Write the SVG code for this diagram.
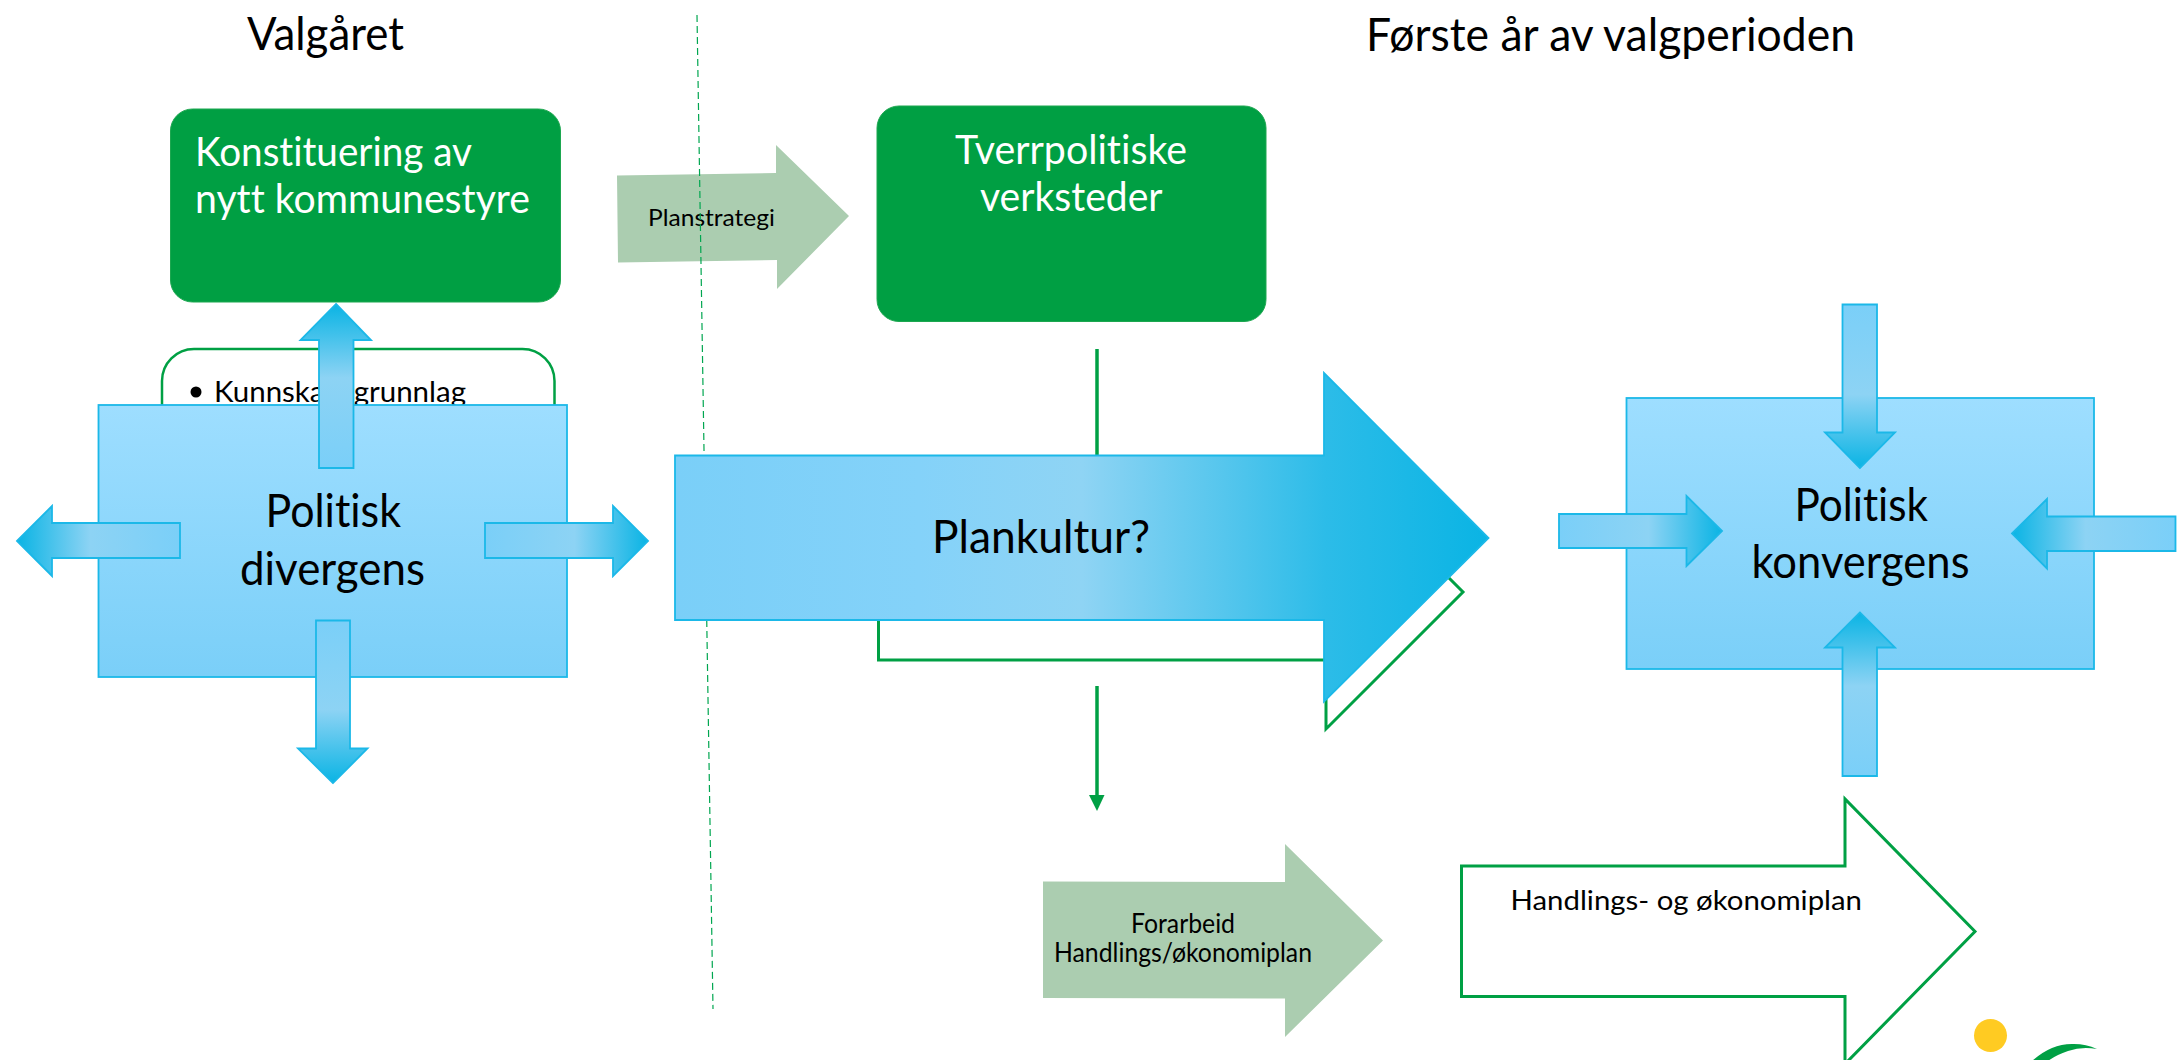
<svg xmlns="http://www.w3.org/2000/svg" width="2177" height="1060" viewBox="0 0 2177 1060">
<style>
text{font-family:"Lato","Carlito","Liberation Sans",sans-serif;fill:#000;font-variant-ligatures:none}
text.w{fill:#fff}
.t1{font-size:46px}
.t2{font-size:40px}
.t3{font-size:26px}
.t4{font-size:23px}
.t5{font-size:28px}
.green{fill:#009F43;stroke:#1DA750;stroke-width:1}
.blue{stroke:#1BB8E8;stroke-width:1.8}
.pale{fill:#ABCDB0}
.outline{fill:#fff;stroke:#00A044;stroke-width:3}
.conn{stroke:#00A044;stroke-width:3.5;fill:none}
</style>
<defs>
<linearGradient id="rectG" x1="0" y1="0" x2="0" y2="1"><stop offset="0" stop-color="#9EDEFF"/><stop offset="1" stop-color="#7ACFF8"/></linearGradient>
<linearGradient id="toR" x1="0" y1="0" x2="1" y2="0"><stop offset="0" stop-color="#7ACFF8"/><stop offset=".55" stop-color="#8DD3F4"/><stop offset="1" stop-color="#0AB4E4"/></linearGradient>
<linearGradient id="toL" x1="1" y1="0" x2="0" y2="0"><stop offset="0" stop-color="#7ACFF8"/><stop offset=".55" stop-color="#8DD3F4"/><stop offset="1" stop-color="#0AB4E4"/></linearGradient>
<linearGradient id="toD" x1="0" y1="0" x2="0" y2="1"><stop offset="0" stop-color="#7ACFF8"/><stop offset=".55" stop-color="#8DD3F4"/><stop offset="1" stop-color="#0AB4E4"/></linearGradient>
<linearGradient id="toU" x1="0" y1="1" x2="0" y2="0"><stop offset="0" stop-color="#7ACFF8"/><stop offset=".55" stop-color="#8DD3F4"/><stop offset="1" stop-color="#0AB4E4"/></linearGradient>
<linearGradient id="bigG" x1="0" y1="0" x2="1" y2="0"><stop offset="0" stop-color="#7ACFF8"/><stop offset=".3" stop-color="#84D2F9"/><stop offset=".5" stop-color="#8FD4F4"/><stop offset=".8" stop-color="#2CBCE8"/><stop offset="1" stop-color="#0AB4E4"/></linearGradient>
</defs>

<rect width="2177" height="1060" fill="#fff"/>

<g id="title-valgaret"><text class="t1" x="247" y="50" textLength="157" lengthAdjust="spacingAndGlyphs">Valgåret</text></g>
<g id="title-forste"><text class="t1" x="1366" y="51" textLength="489" lengthAdjust="spacingAndGlyphs">Første år av valgperioden</text></g>

<g id="arrow-planstrategi">
<polygon class="pale" points="617,175.500 776,173 776,145 849,216 777,289 777,260 618,262.500"/>
<text class="t4" x="648" y="226" textLength="127" lengthAdjust="spacingAndGlyphs">Planstrategi</text>
</g>

<g id="connectors">
<path d="M697 15L713 1009" stroke="#00A650" stroke-width="1.2" stroke-dasharray="7 4" fill="none"/>
<path class="conn" d="M1097 349V470"/>
<path class="conn" d="M1097 686V795"/>
<polygon points="1089,795 1104.500,795 1097,811" fill="#00A044"/>
</g>

<g id="node-konstituering">
<rect class="green" x="170.500" y="109" width="390" height="193" rx="22"/>
<text class="t2 w" x="195" y="166" textLength="277" lengthAdjust="spacingAndGlyphs">Konstituering av</text>
<text class="t2 w" x="195" y="213" textLength="335" lengthAdjust="spacingAndGlyphs">nytt kommunestyre</text>
</g>

<g id="node-kunnskapsgrunnlag">
<rect x="162" y="349" width="392.500" height="120" rx="32" fill="#fff" stroke="#00A044" stroke-width="2.500"/>
<circle cx="196" cy="392" r="5.500" fill="#000"/>
<text class="t5" x="214" y="402" textLength="252" lengthAdjust="spacingAndGlyphs">Kunnskapsgrunnlag</text>
</g>

<g id="node-divergens">
<rect class="blue" x="98.500" y="405" width="468.500" height="272" fill="url(#rectG)"/>
<text class="t1" x="265.500" y="527" textLength="135.500" lengthAdjust="spacingAndGlyphs">Politisk</text>
<text class="t1" x="240" y="585" textLength="185" lengthAdjust="spacingAndGlyphs">divergens</text>
</g>
<g id="arrow-div-up"><polygon class="blue" fill="url(#toU)" points="336,304 371,340 353.500,340 353.500,468 319,468 319,340 300.500,340"/></g>
<g id="arrow-div-left"><polygon class="blue" fill="url(#toL)" points="17,541 52,506 52,523 180,523 180,558 52,558 52,576"/></g>
<g id="arrow-div-right"><polygon class="blue" fill="url(#toR)" points="648,541 613,506 613,523 485,523 485,558 613,558 613,576"/></g>
<g id="arrow-div-down"><polygon class="blue" fill="url(#toD)" points="333,783 298,748.500 316,748.500 316,620.500 350,620.500 350,748.500 367.500,748.500"/></g>

<g id="node-tverrpolitiske">
<rect class="green" x="877" y="106" width="389" height="215.500" rx="22"/>
<text class="t2 w" x="955" y="163.500" textLength="232" lengthAdjust="spacingAndGlyphs">Tverrpolitiske</text>
<text class="t2 w" x="980" y="211" textLength="182.500" lengthAdjust="spacingAndGlyphs">verksteder</text>
</g>

<g id="arrow-hollow-behind"><polygon class="outline" points="878.500,490 1326,490 1326,455 1463,592 1326,729 1326,660 878.500,660"/></g>
<g id="arrow-plankultur">
<polygon class="blue" fill="url(#bigG)" points="675,455.500 1324,455.500 1324,373 1488.500,538 1324,701.500 1324,620 675,620"/>
<text class="t1" x="932" y="553" textLength="218" lengthAdjust="spacingAndGlyphs">Plankultur?</text>
</g>

<g id="node-konvergens">
<rect class="blue" x="1626.500" y="398" width="467.500" height="271" fill="url(#rectG)"/>
<text class="t1" x="1794.500" y="520.500" textLength="133.500" lengthAdjust="spacingAndGlyphs">Politisk</text>
<text class="t1" x="1751.500" y="578" textLength="218" lengthAdjust="spacingAndGlyphs">konvergens</text>
</g>
<g id="arrow-conv-top"><polygon class="blue" fill="url(#toD)" points="1860,468 1825,432.500 1842.500,432.500 1842.500,304.500 1877,304.500 1877,432.500 1895,432.500"/></g>
<g id="arrow-conv-bottom"><polygon class="blue" fill="url(#toU)" points="1860,612.500 1825,647.500 1842.500,647.500 1842.500,776 1877,776 1877,647.500 1895,647.500"/></g>
<g id="arrow-conv-left"><polygon class="blue" fill="url(#toR)" points="1722,531 1686.500,496 1686.500,514 1559,514 1559,548 1686.500,548 1686.500,566"/></g>
<g id="arrow-conv-right"><polygon class="blue" fill="url(#toL)" points="2012,533.500 2047,499 2047,516.500 2175.500,516.500 2175.500,551 2047,551 2047,568.500"/></g>

<g id="arrow-forarbeid">
<polygon class="pale" points="1043,881.500 1285,882 1285,844 1383,940.500 1285,1037 1285,998.500 1043,998"/>
<text class="t3" x="1131" y="932.500" textLength="104" lengthAdjust="spacingAndGlyphs">Forarbeid</text>
<text class="t3" x="1054" y="961.500" textLength="258" lengthAdjust="spacingAndGlyphs">Handlings/økonomiplan</text>
</g>

<g id="arrow-handlings">
<polygon class="outline" points="1461.500,866 1845,866 1845,799 1975,931.500 1845,1064 1845,996.500 1461.500,996.500"/>
<text class="t3" x="1510.500" y="910" textLength="351.500" lengthAdjust="spacingAndGlyphs">Handlings- og økonomiplan</text>
</g>

<g id="logo">
<circle cx="1990.500" cy="1035.500" r="16.500" fill="#FFCB22"/>
<path d="M2032 1061Q2052 1043 2074 1044Q2086 1044 2097 1049Q2082 1046 2068 1051Q2056 1055 2048 1061Z" fill="#00A044"/>
</g>
</svg>
